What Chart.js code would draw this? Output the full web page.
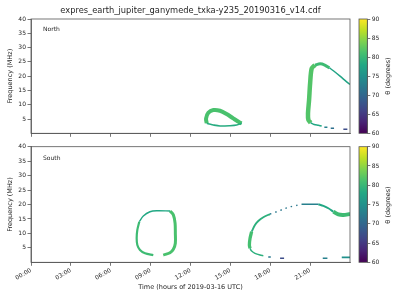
<!DOCTYPE html>
<html>
<head>
<meta charset="utf-8">
<script src="https://cdn.jsdelivr.net/npm/chart.js@4.4.1/dist/chart.umd.min.js"></script>
<style>
  body { margin: 0; width: 400px; height: 300px; background: #fff; position: relative; overflow: hidden; font-family: "DejaVu Sans", sans-serif; color: #262626; }
  .box { position: absolute; }
  .txt { position: absolute; white-space: nowrap; font-size: 6px; line-height: 1; z-index: 2; }
  .rot { transform: translate(-50%, -50%) rotate(-90deg); }
</style>
</head>
<body>
<div class="box" style="left:0;top:0;width:355px;height:150px"><canvas id="north"></canvas></div>
<div class="box" style="left:355px;top:0;width:45px;height:150px"><canvas id="cb-north"></canvas></div>
<div class="box" style="left:0;top:140px;width:355px;height:160px"><canvas id="south"></canvas></div>
<div class="box" style="left:355px;top:140px;width:45px;height:160px"><canvas id="cb-south"></canvas></div>

<div class="txt" style="left:190.5px;top:6px;transform:translateX(-50%);font-size:8.3px">expres_earth_jupiter_ganymede_txka-y235_20190316_v14.cdf</div>
<div class="txt" style="left:43px;top:26px">North</div>
<div class="txt" style="left:43px;top:155px">South</div>
<div class="txt rot" style="left:388px;top:76px;font-size:6.5px">θ (degrees)</div>
<div class="txt rot" style="left:388px;top:204.5px;font-size:6.5px">θ (degrees)</div>

<script>
// ticks
const hourTicks = [0, 3, 6, 9, 12, 15, 18, 21];
const freqTicks = [5, 10, 15, 20, 25, 30, 35, 40];
const thetaTicks = [60, 65, 70, 75, 80, 85, 90];

// North: small loop around 14h
const nLoopTopHours = [13.22, 13.17, 13.34, 13.72, 14.22, 14.72, 15.22, 15.73, 15.85];
const nLoopTopMHz = [3.5, 5.2, 7.2, 8.15, 7.9, 6.75, 5.2, 3.7, 3.5];
const nLoopLowHours = [15.85, 15.48, 14.97, 14.22, 13.72, 13.42, 13.22];
const nLoopLowMHz = [3.5, 2.9, 2.66, 2.55, 2.9, 3.25, 3.5];

// North: big arc after 21h
const nRiseHours = [21.04, 20.87, 20.84, 20.92, 21.0, 21.12, 21.37];
const nRiseMHz = [3.7, 4.65, 7.0, 11.6, 17.5, 22.7, 23.9];
const nCrownHours = [21.37, 21.75, 22.1, 22.45];
const nCrownMHz = [23.9, 24.3, 23.9, 22.9];
const nFallHours = [22.45, 22.75, 23.25, 23.75, 24.0];
const nFallMHz = [22.9, 21.9, 20.0, 18.0, 17.1];
const nFootHours = [21.04, 21.3, 21.62, 21.87];
const nFootMHz = [3.7, 3.1, 2.8, 2.55];
const nDashStart = [22.07, 22.55, 23.5];
const nDashEnd = [22.3, 22.8, 23.8];
const nDashMHz = [2.1, 1.75, 1.4];
const nDashTheta = [73, 71, 67];

// South: loop around 9h-11h
const sLoopTopHours = [10.46, 9.46, 8.95, 8.45, 8.15];
const sLoopTopMHz = [17.75, 17.85, 17.5, 16.0, 14.05];
const sLoopLeftHours = [8.15, 8.0, 7.95, 8.0, 8.2, 8.58, 9.2];
const sLoopLeftMHz = [14.05, 11.2, 8.3, 6.0, 4.25, 3.1, 2.5];
const sLoopRightHours = [10.46, 10.71, 10.84, 10.86, 10.86, 10.71, 10.46, 9.95];
const sLoopRightMHz = [17.75, 16.4, 13.5, 10.0, 6.6, 4.5, 3.3, 2.5];

// South: long arc after 16h
const sRiseLowHours = [16.48, 16.43, 16.48, 16.6];
const sRiseLowMHz = [4.8, 6.0, 8.3, 10.6];
const sRiseHighHours = [16.6, 16.85, 17.1, 17.48, 17.98];
const sRiseHighMHz = [10.6, 12.9, 14.3, 15.6, 16.7];
const sDotHours = [17.98, 18.49, 18.99, 19.49, 19.99, 20.37];
const sDotMHz = [16.7, 17.5, 18.4, 19.2, 19.7, 20.07];
const sPlateauHours = [20.37, 21.62];
const sPlateauMHz = [20.07, 20.07];
const sDescentHours = [21.62, 22.0, 22.37, 22.75];
const sDescentMHz = [20.07, 19.5, 18.7, 17.5];
const sTailHours = [22.75, 23.12, 23.5, 24.0];
const sTailMHz = [17.5, 16.6, 16.4, 16.7];
const sFootHours = [16.48, 16.6, 16.85, 17.23, 17.48];
const sFootMHz = [4.8, 3.9, 3.1, 2.5, 2.3];
const sDashStart = [17.85, 18.74, 21.95, 23.38];
const sDashEnd = [18.04, 19.04, 22.3, 24.0];
const sDashMHz = [1.85, 1.4, 1.4, 1.7];
const sDashTheta = [72, 67, 73, 75];

const AXIS = '#555';
const TEXT = '#262626';
const FONT = { family: 'DejaVu Sans', size: 6 };
// viridis sampled every 0.1
const VIRIDIS = ['#440154', '#482475', '#414487', '#355f8d', '#2a788e', '#21918c', '#22a884', '#44bf70', '#7ad151', '#bddf26', '#fde725'];

function hexRgb(h) {
  return [1, 3, 5].map((i) => parseInt(h.slice(i, i + 2), 16));
}

// theta 60..90 -> viridis colour
function viridis(theta) {
  const t = Math.min(Math.max((theta - 60) / 30, 0), 1) * (VIRIDIS.length - 1);
  const i = Math.min(Math.floor(t), VIRIDIS.length - 2);
  const f = t - i;
  const a = hexRgb(VIRIDIS[i]);
  const b = hexRgb(VIRIDIS[i + 1]);
  const c = a.map((v, k) => Math.round(v + (b[k] - v) * f));
  return `rgb(${c[0]},${c[1]},${c[2]})`;
}

function piece(hours, mhz, theta, width, dash) {
  return {
    data: hours.map((h, i) => ({ x: h, y: mhz[i] })),
    showLine: true,
    borderColor: viridis(theta),
    backgroundColor: viridis(theta),
    borderWidth: width,
    borderDash: dash || [],
    borderCapStyle: 'butt',
    borderJoinStyle: 'round',
    pointRadius: 0,
    tension: 0.3,
    fill: false
  };
}

function dashes(starts, ends, mhz, thetas) {
  return starts.map((s, i) => piece([s, ends[i]], [mhz[i], mhz[i]], thetas[i], 1.6));
}

const frame = {
  id: 'frame',
  afterDraw(chart) {
    const { ctx, chartArea: a } = chart;
    ctx.save();
    ctx.strokeStyle = AXIS;
    ctx.lineWidth = 0.8;
    ctx.strokeRect(a.left, a.top, a.right - a.left, a.bottom - a.top);
    ctx.restore();
  }
};

function panel(id, datasets, opts) {
  return new Chart(document.getElementById(id), {
    type: 'scatter',
    data: { datasets },
    plugins: [frame],
    options: {
      responsive: true,
      maintainAspectRatio: false,
      animation: false,
      events: [],
      layout: { padding: { left: 0, right: 5, top: opts.top, bottom: 0 } },
      plugins: { legend: { display: false }, tooltip: { enabled: false } },
      scales: {
        x: {
          type: 'linear',
          min: 0,
          max: 24,
          afterBuildTicks: (s) => { s.ticks = hourTicks.map((v) => ({ value: v })); },
          afterFit: (s) => { s.height = opts.xHeight; },
          ticks: {
            display: opts.labels,
            autoSkip: false,
            minRotation: 30,
            maxRotation: 30,
            padding: 1,
            color: TEXT,
            font: FONT,
            callback: (v) => String(v).padStart(2, '0') + ':00'
          },
          grid: { drawOnChartArea: false, tickLength: 3.5, color: AXIS, lineWidth: 0.8 },
          border: { color: AXIS, width: 0.8 },
          title: {
            display: opts.labels,
            text: 'Time (hours of 2019-03-16 UTC)',
            color: TEXT,
            font: { family: 'DejaVu Sans', size: 6.5 },
            padding: { top: 0, bottom: 9 }
          }
        },
        y: {
          min: 0,
          max: 40,
          afterBuildTicks: (s) => { s.ticks = freqTicks.map((v) => ({ value: v })); },
          afterFit: (s) => { s.width = 31; },
          ticks: { padding: 1.5, color: TEXT, font: FONT },
          grid: { drawOnChartArea: false, tickLength: 3.5, color: AXIS, lineWidth: 0.8 },
          border: { color: AXIS, width: 0.8 },
          title: {
            display: true,
            text: 'Frequency (MHz)',
            color: TEXT,
            font: { family: 'DejaVu Sans', size: 6.5 },
            padding: { top: 6, bottom: 0 }
          }
        }
      }
    }
  });
}

function colorbar(id, top, bottom) {
  return new Chart(document.getElementById(id), {
    type: 'bar',
    data: {
      labels: ['θ'],
      datasets: [{
        data: [[thetaTicks[0], thetaTicks[thetaTicks.length - 1]]],
        barPercentage: 1,
        categoryPercentage: 1,
        borderWidth: 0,
        backgroundColor: (c) => {
          const a = c.chart.chartArea;
          if (!a) return VIRIDIS[5];
          const g = c.chart.ctx.createLinearGradient(0, a.bottom, 0, a.top);
          VIRIDIS.forEach((col, i) => g.addColorStop(i / (VIRIDIS.length - 1), col));
          return g;
        }
      }]
    },
    plugins: [frame],
    options: {
      responsive: true,
      maintainAspectRatio: false,
      animation: false,
      events: [],
      layout: { padding: { left: 4, right: 0, top, bottom } },
      plugins: { legend: { display: false }, tooltip: { enabled: false } },
      scales: {
        x: { display: false },
        y: {
          position: 'right',
          min: 60,
          max: 90,
          afterBuildTicks: (s) => { s.ticks = thetaTicks.map((v) => ({ value: v })); },
          afterFit: (s) => { s.width = 32.7; },
          ticks: { padding: 1.5, color: TEXT, font: FONT },
          grid: { drawOnChartArea: false, tickLength: 3, color: AXIS, lineWidth: 0.8 },
          border: { color: AXIS, width: 0.8 }
        }
      }
    }
  });
}

panel('north', [
  piece(nLoopLowHours, nLoopLowMHz, 78.5, 1.6),
  piece(nLoopTopHours, nLoopTopMHz, 81.3, 4),
  piece(nFootHours, nFootMHz, 78, 1.5),
  piece(nFallHours, nFallMHz, 77.5, 1.5),
  piece(nCrownHours, nCrownMHz, 80.5, 3),
  piece(nRiseHours, nRiseMHz, 81.8, 4.5),
  ...dashes(nDashStart, nDashEnd, nDashMHz, nDashTheta)
], { top: 19, xHeight: 16.7, labels: false });

panel('south', [
  piece(sLoopTopHours, sLoopTopMHz, 78, 1.4),
  piece(sLoopLeftHours, sLoopLeftMHz, 80.5, 2.2),
  piece(sLoopRightHours, sLoopRightMHz, 81.3, 3),
  piece(sFootHours, sFootMHz, 79, 1.5),
  piece(sRiseHighHours, sRiseHighMHz, 79, 1.9),
  piece(sRiseLowHours, sRiseLowMHz, 81, 3.3),
  piece(sDotHours, sDotMHz, 72, 1.4, [1.5, 4]),
  piece(sPlateauHours, sPlateauMHz, 73, 1.4),
  piece(sDescentHours, sDescentMHz, 78, 2),
  piece(sTailHours, sTailMHz, 80.5, 4),
  ...dashes(sDashStart, sDashEnd, sDashMHz, sDashTheta)
], { top: 6.7, xHeight: 37.7, labels: true });

colorbar('cb-north', 19, 16.7);
colorbar('cb-south', 6.7, 37.7);
</script>
</body>
</html>
